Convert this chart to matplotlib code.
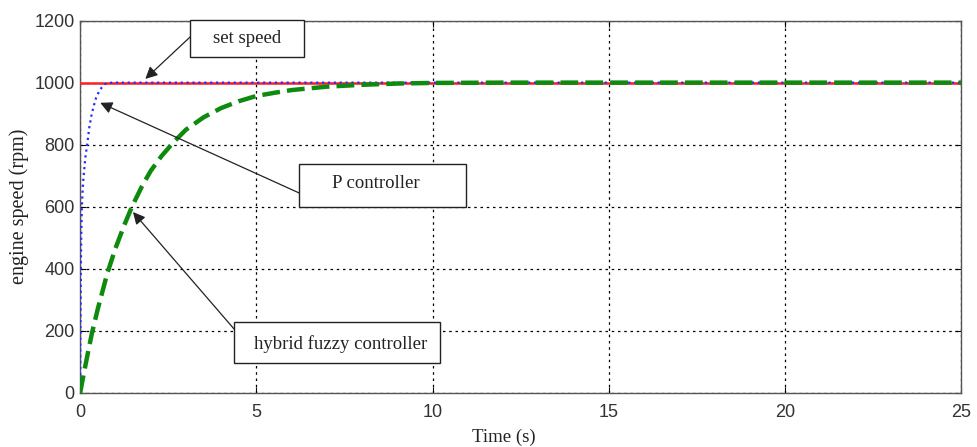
import numpy as np
import matplotlib
matplotlib.use('Agg')
import matplotlib.pyplot as plt
from matplotlib.patches import Rectangle

# values
t_set = [0, 25]
v_set = [1000, 1000]

t_p = [0, 0.01, 0.02, 0.035, 0.05, 0.075, 0.1, 0.15, 0.2, 0.26, 0.33, 0.4, 0.45, 0.55, 0.62, 0.7, 0.8, 0.9, 25]
v_p = [0, 200, 400, 520, 600, 660, 700, 760, 800, 855, 900, 930, 950, 975, 985, 995, 998, 1000, 1000]

t_hf = [0, 0.1, 0.2, 0.33, 0.5, 0.77, 1.0, 1.25, 1.47, 1.75, 2.0, 2.3, 2.65, 3.0,
        3.5, 4.0, 4.5, 5.0, 5.5, 6.0, 7.0, 8.0, 9.0, 10.0, 12.0, 15.0, 20.0, 25.0]
v_hf = [0, 60, 117, 190, 270, 385, 465, 540, 600, 665, 715, 762, 808, 848,
        888, 918, 940, 957, 967, 976, 987, 993, 997, 999, 1000, 1000, 1000, 1000]

xticks = [0, 5, 10, 15, 20, 25]
yticks = [0, 200, 400, 600, 800, 1000, 1200]

serif = ['Liberation Serif', 'DejaVu Serif']
sans = ['Liberation Sans', 'DejaVu Sans']

fig = plt.figure(figsize=(9.77, 4.47), dpi=100)
ax = fig.add_axes([0.082, 0.121, 0.902, 0.833])

ax.plot(t_set, v_set, color='#ff2020', lw=1.8, zorder=3)
ax.plot(t_p, v_p, color='#2a2aff', lw=1.6, ls=':', zorder=4)
ax.plot(t_hf, v_hf, color='#0e8a0e', lw=3.2, ls=(0, (4, 1.6)), zorder=5)

ax.set_xlim(0, 25)
ax.set_ylim(0, 1200)
ax.set_xticks(xticks)
ax.set_yticks(yticks)
ax.grid(True, color='k', ls=(0, (2, 3)), lw=0.9)
ax.tick_params(direction='in', top=True, right=True, length=4,
               labelsize=13, labelcolor='#333333')
ax.tick_params(axis='x', pad=8)
ax.tick_params(axis='y', pad=4)
for lab in ax.get_xticklabels() + ax.get_yticklabels():
    lab.set_family(sans)
for s in ax.spines.values():
    s.set_color('#555555')
    s.set_linewidth(1.0)

ax.set_xlabel('Time (s)', family=serif, fontsize=13.5, color='#222222')
ax.xaxis.set_label_coords(0.481, -0.097)
ax.set_ylabel('engine speed (rpm)', family=serif, fontsize=14.5, color='#222222', labelpad=4)

# annotation boxes
boxes = [
    ((3.125, 1083), 3.235, 119, 'set speed', (4.74, 1142)),
    ((6.22, 599), 4.72, 139, 'P controller', (8.38, 675)),
    ((4.375, 96), 5.825, 132, 'hybrid fuzzy controller', (7.39, 158)),
]
for (x0, y0), w, h, txt, (tx, ty) in boxes:
    ax.add_patch(Rectangle((x0, y0), w, h, fill=True, fc='white', ec='#222222',
                           lw=1.0, zorder=6, clip_on=False))
    ax.text(tx, ty, txt, family=serif, fontsize=13.5, ha='center', va='center',
            color='#222222', zorder=7)

arrows = [
    ((3.12, 1147), (1.85, 1012)),
    ((6.22, 644), (0.57, 935)),
    ((4.375, 205), (1.5, 583)),
]
for start, end in arrows:
    ax.annotate('', xy=end, xytext=start, zorder=8,
                arrowprops=dict(arrowstyle='-|>', color='#222222', lw=0.9,
                                mutation_scale=18, shrinkA=0, shrinkB=0))

fig.savefig('out.png', dpi=100)
